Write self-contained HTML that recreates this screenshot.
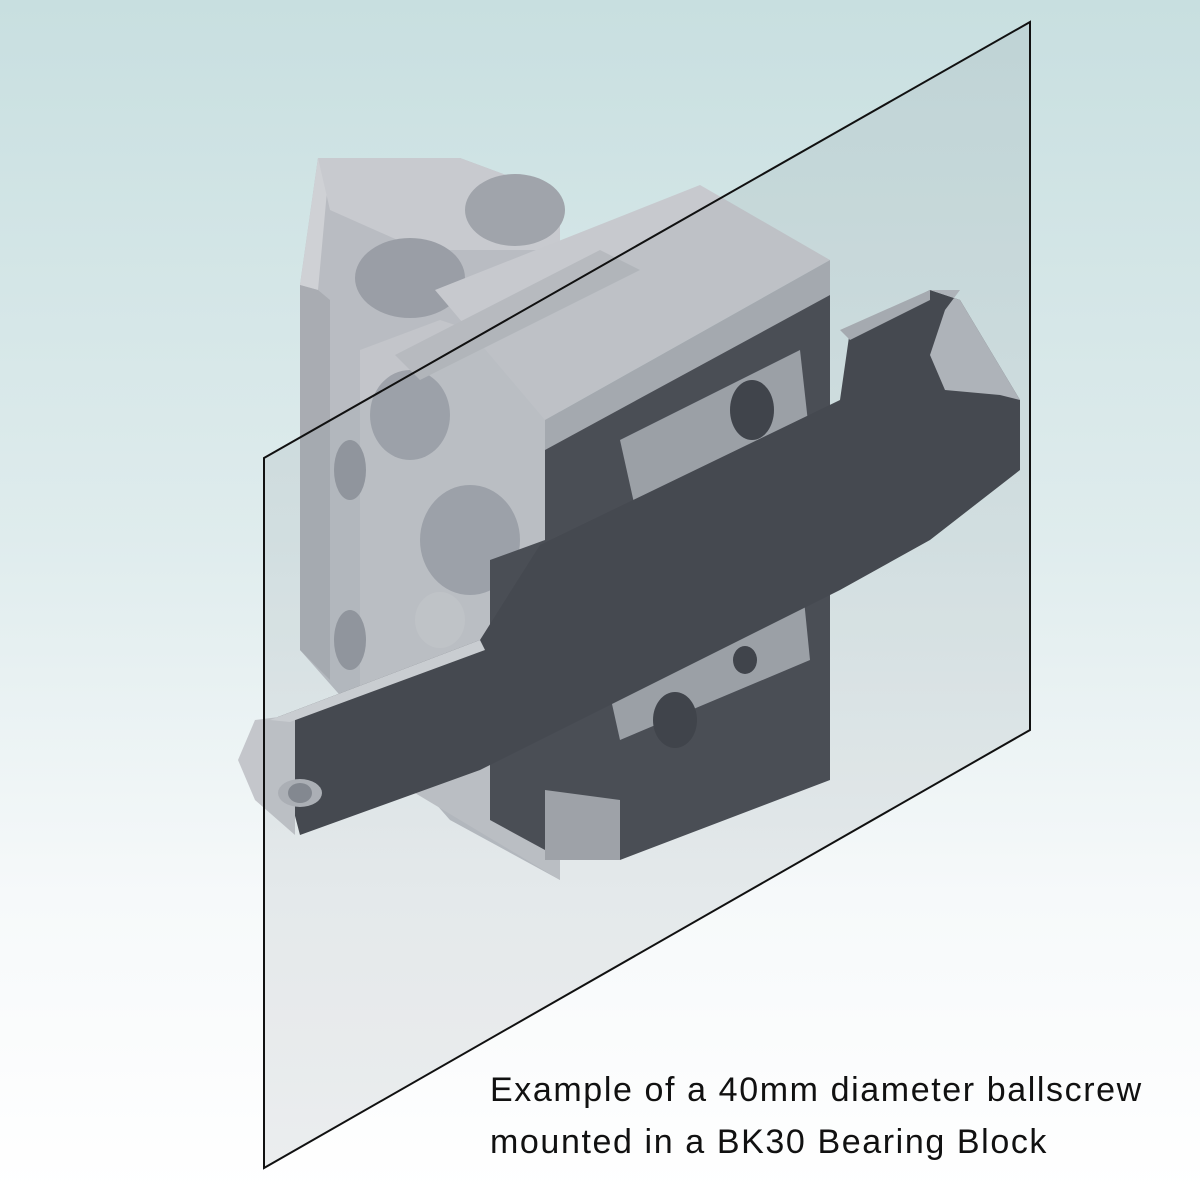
<!DOCTYPE html>
<html><head><meta charset="utf-8"><style>
html,body{margin:0;padding:0}
body{width:1200px;height:1194px;overflow:hidden;background:linear-gradient(180deg,#c8dfe0 0%,#dfeced 45%,#f6f9fa 75%,#ffffff 100%);position:relative;font-family:"Liberation Sans",sans-serif}
svg{position:absolute;left:0;top:0}
.t{position:absolute;left:490px;top:1064px;font-size:34px;letter-spacing:1.6px;line-height:52px;color:#111;white-space:nowrap}
</style></head><body>
<svg width="1200" height="1194" viewBox="0 0 1200 1194">
<polygon points="300,285 318,158 460,158 560,195 560,880 450,820 300,650" fill="#b9bcc2"/>
<polygon points="300,285 318,158 330,158 318,290" fill="#cfd1d5"/>
<polygon points="318,290 300,285 300,650 330,680 330,300" fill="#a9acb2"/>
<polygon points="318,158 460,158 560,195 560,250 420,250 330,210" fill="#c8cacf"/>
<ellipse cx="410" cy="278" rx="55" ry="40" fill="#9a9ea6"/>
<ellipse cx="515" cy="210" rx="50" ry="36" fill="#a0a4ab"/>
<polygon points="360,350 440,320 560,360 560,880 460,820 360,760" fill="#c3c5ca"/>
<ellipse cx="410" cy="415" rx="40" ry="45" fill="#9ea2aa"/>
<ellipse cx="470" cy="540" rx="50" ry="55" fill="#9ea2aa"/>
<ellipse cx="350" cy="470" rx="16" ry="30" fill="#8f939b"/>
<ellipse cx="350" cy="640" rx="16" ry="30" fill="#8f939b"/>
<polygon points="435,290 700,185 830,260 545,420" fill="#c7c9ce"/>
<polygon points="395,355 600,250 640,270 420,380" fill="#b7babf"/>
<polygon points="545,420 830,260 830,300 545,455" fill="#a8abb1"/>
<polygon points="545,450 830,295 830,780 620,860 545,860" fill="#3a3c44"/>
<polygon points="490,560 545,540 545,850 490,820" fill="#3a3c44"/>
<polygon points="545,860 620,860 620,800 545,790" fill="#a0a3a9"/>
<polygon points="620,440 800,350 810,440 640,530" fill="#9da0a7"/>
<polygon points="600,650 800,560 810,660 620,740" fill="#9da0a7"/>
<ellipse cx="752" cy="410" rx="22" ry="30" fill="#2e3037"/>
<ellipse cx="675" cy="720" rx="22" ry="28" fill="#2e3037"/>
<ellipse cx="745" cy="660" rx="12" ry="14" fill="#2e3037"/>
<polygon points="270,720 480,640 540,545 840,400 850,330 930,290 960,300 1020,400 1020,470 930,540 840,590 480,770 300,835" fill="#34363d"/>
<polygon points="930,290 960,290 945,310 930,355 945,390 1000,395 1020,400 960,300" fill="#b4b7bd"/>
<polygon points="840,330 930,290 930,300 850,340" fill="#a9acb2"/>
<polygon points="255,720 295,715 295,835 255,800 238,760" fill="#c4c6cb"/>
<polygon points="270,720 480,640 485,650 290,722" fill="#d5d7db"/>
<ellipse cx="300" cy="793" rx="22" ry="14" fill="#b0b3b9"/>
<ellipse cx="300" cy="793" rx="12" ry="10" fill="#7f838b"/>
<ellipse cx="440" cy="620" rx="25" ry="28" fill="#c9cbcf"/>
<polygon points="264,458 1030,22 1030,730 264,1168" fill="rgba(150,160,165,0.18)" stroke="#111" stroke-width="2"/>
</svg>
<div class="t">Example of a 40mm diameter ballscrew<br>mounted in a BK30 Bearing Block</div>
</body></html>
